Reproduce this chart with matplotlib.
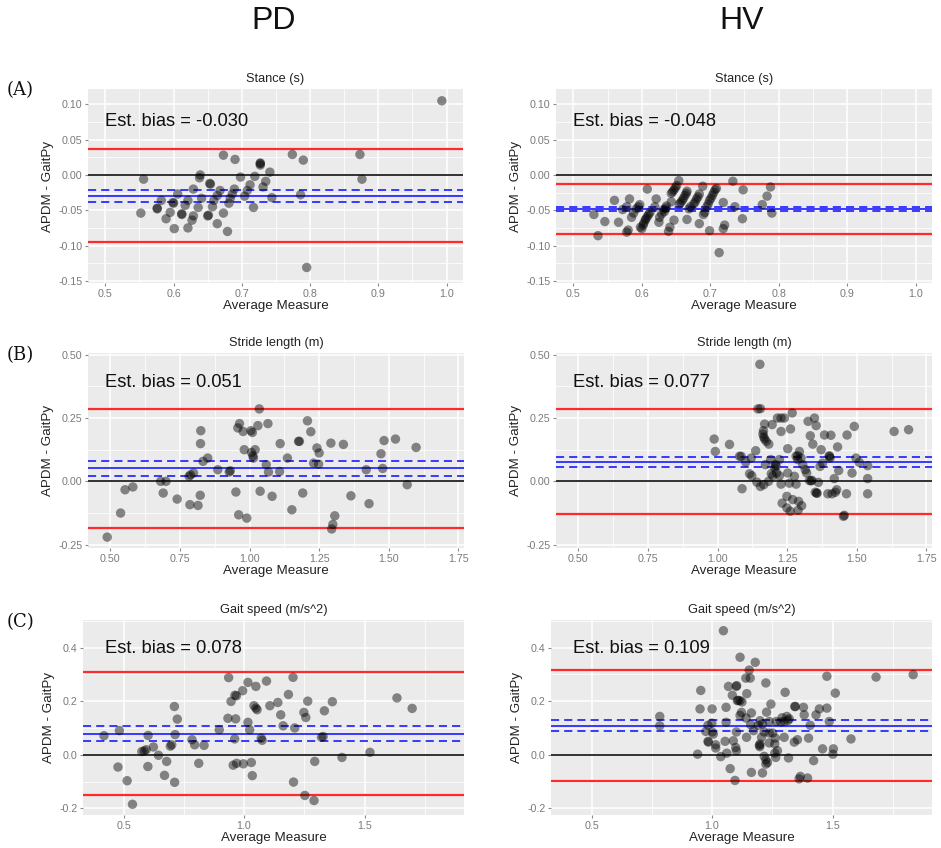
import numpy as np
import matplotlib
matplotlib.use("Agg")
from matplotlib import pyplot as plt
from matplotlib.ticker import MultipleLocator, FormatStrFormatter

plt.rcParams["font.family"] = ["Liberation Sans", "DejaVu Sans"]
plt.rcParams["axes.unicode_minus"] = False

# Bland-Altman points: (average measure, APDM - GaitPy)
pd_stance = [
    (0.556, -0.006), (0.552, -0.054), (0.576, -0.048), (0.576, -0.047), (0.582, -0.036),
    (0.589, -0.062), (0.595, -0.053), (0.599, -0.039), (0.600, -0.040), (0.601, -0.076),
    (0.606, -0.027), (0.612, -0.055), (0.612, -0.056), (0.617, -0.043), (0.621, -0.036),
    (0.627, -0.064), (0.629, -0.058), (0.621, -0.075), (0.629, -0.020), (0.638, -0.004),
    (0.639, 0.000), (0.636, -0.046), (0.641, -0.033), (0.653, -0.012), (0.654, -0.013),
    (0.650, -0.058), (0.651, -0.057), (0.657, -0.045), (0.659, -0.036), (0.664, -0.029),
    (0.668, -0.022), (0.664, -0.069), (0.673, -0.054), (0.679, -0.080), (0.681, -0.040),
    (0.683, -0.033), (0.686, -0.027), (0.689, -0.020), (0.698, -0.003), (0.704, -0.030),
    (0.708, -0.022), (0.712, -0.014), (0.717, -0.046), (0.719, -0.002), (0.727, 0.017),
    (0.727, 0.014), (0.727, 0.016), (0.731, -0.017), (0.735, -0.009), (0.741, 0.004),
    (0.744, -0.032), (0.673, 0.028), (0.690, 0.022), (0.774, 0.029), (0.790, 0.021),
    (0.786, -0.028), (0.873, 0.029), (0.876, -0.006), (0.993, 0.105), (0.795, -0.131),
]

hv_stance = [
    (0.530, -0.056), (0.536, -0.086), (0.546, -0.066), (0.560, -0.036), (0.566, -0.067),
    (0.572, -0.049), (0.578, -0.045), (0.582, -0.034), (0.578, -0.081), (0.580, -0.078),
    (0.585, -0.060), (0.588, -0.054), (0.592, -0.048), (0.597, -0.042), (0.600, -0.076),
    (0.602, -0.071), (0.605, -0.064), (0.608, -0.059), (0.612, -0.053), (0.608, -0.020),
    (0.621, -0.034), (0.619, -0.045), (0.625, -0.067), (0.629, -0.055), (0.632, -0.049),
    (0.636, -0.044), (0.639, -0.080), (0.641, -0.074), (0.643, -0.038), (0.647, -0.064),
    (0.643, -0.026), (0.647, -0.021), (0.651, -0.015), (0.654, -0.008), (0.655, -0.041),
    (0.659, -0.036), (0.663, -0.029), (0.666, -0.023), (0.666, -0.063), (0.671, -0.045),
    (0.676, -0.041), (0.680, -0.034), (0.684, -0.027), (0.684, -0.069), (0.689, -0.016),
    (0.692, -0.053), (0.695, -0.045), (0.699, -0.036), (0.703, -0.029), (0.707, -0.021),
    (0.699, -0.079), (0.713, -0.110), (0.719, -0.039), (0.721, -0.071), (0.719, -0.076),
    (0.733, -0.009), (0.736, -0.045), (0.748, -0.021), (0.747, -0.062), (0.776, -0.042),
    (0.783, -0.030), (0.788, -0.017), (0.790, -0.054), (0.595, -0.045), (0.598, -0.074),
    (0.603, -0.068), (0.606, -0.062), (0.610, -0.056), (0.633, -0.052), (0.635, -0.047),
    (0.645, -0.024), (0.649, -0.018), (0.657, -0.039), (0.661, -0.033), (0.665, -0.026),
    (0.669, -0.048), (0.678, -0.038), (0.682, -0.031), (0.697, -0.041), (0.701, -0.033),
    (0.705, -0.025), (0.709, -0.019), (0.690, -0.056), (0.626, -0.060),
]

pd_stride = [
    (0.489, -0.220), (0.537, -0.125), (0.553, -0.033), (0.581, -0.022), (0.681, 0.000),
    (0.700, 0.000), (0.690, -0.046), (0.740, -0.070), (0.783, 0.020), (0.788, 0.026),
    (0.799, 0.033), (0.786, -0.092), (0.815, -0.095), (0.823, -0.055), (0.825, 0.200),
    (0.824, 0.149), (0.833, 0.079), (0.850, 0.092), (0.886, 0.046), (0.927, 0.037),
    (0.931, 0.042), (0.951, -0.042), (0.958, 0.211), (0.964, 0.228), (0.961, -0.132),
    (0.977, 0.197), (0.981, 0.125), (0.990, -0.145), (1.005, 0.200), (1.010, 0.193),
    (1.007, 0.114), (1.012, 0.101), (1.014, 0.092), (1.020, 0.125), (1.030, 0.220),
    (1.035, 0.286), (1.038, -0.039), (1.060, 0.066), (1.066, 0.228), (1.068, 0.037),
    (1.081, -0.059), (1.108, 0.039), (1.110, 0.149), (1.136, 0.092), (1.152, -0.112),
    (1.179, 0.158), (1.176, 0.158), (1.191, -0.046), (1.208, 0.239), (1.220, 0.196),
    (1.230, 0.072), (1.242, 0.132), (1.250, 0.112), (1.248, 0.068), (1.292, 0.151),
    (1.295, -0.188), (1.299, -0.170), (1.306, -0.136), (1.337, 0.146), (1.364, -0.057),
    (1.419, 0.046), (1.429, -0.088), (1.472, 0.109), (1.478, 0.051), (1.483, 0.161),
    (1.524, 0.167), (1.566, -0.013), (1.598, 0.134),
]

hv_stride = [
    (1.152, 0.462), (1.145, 0.286), (1.154, 0.287), (0.988, 0.167), (0.992, 0.118),
    (1.043, 0.146), (1.085, 0.099), (1.088, -0.029), (1.101, 0.076), (1.115, 0.030),
    (1.123, 0.022), (1.121, 0.092), (1.137, 0.121), (1.141, -0.003), (1.154, -0.020),
    (1.169, 0.226), (1.165, 0.200), (1.163, 0.187), (1.166, 0.175), (1.169, 0.167),
    (1.175, 0.158), (1.172, 0.066), (1.166, -0.013), (1.183, 0.000), (1.184, 0.147),
    (1.196, 0.224), (1.191, 0.086), (1.193, 0.030), (1.199, 0.022), (1.205, 0.053),
    (1.208, 0.066), (1.212, 0.033), (1.215, 0.250), (1.228, 0.250), (1.240, 0.250),
    (1.228, 0.197), (1.222, 0.086), (1.222, 0.022), (1.228, -0.011), (1.232, -0.086),
    (1.249, -0.059), (1.270, -0.072), (1.249, -0.105), (1.291, -0.079), (1.302, -0.096),
    (1.289, -0.114), (1.261, -0.118), (1.252, 0.129), (1.262, 0.207), (1.268, 0.270),
    (1.252, 0.033), (1.258, -0.007), (1.282, 0.099), (1.288, 0.086), (1.276, 0.020),
    (1.282, -0.011), (1.288, 0.101), (1.294, 0.118), (1.300, 0.092), (1.306, 0.066),
    (1.315, 0.046), (1.320, 0.033), (1.325, 0.237), (1.333, 0.180), (1.342, 0.147),
    (1.348, 0.250), (1.354, 0.220), (1.330, 0.003), (1.339, 0.004), (1.351, -0.043),
    (1.356, -0.046), (1.362, -0.004), (1.368, 0.059), (1.372, 0.125), (1.377, 0.072),
    (1.384, 0.183), (1.396, -0.049), (1.401, 0.101), (1.404, 0.092), (1.407, 0.182),
    (1.411, -0.049), (1.423, -0.043), (1.419, 0.011), (1.428, -0.033), (1.431, 0.136),
    (1.435, 0.043), (1.463, -0.049), (1.465, 0.183), (1.483, 0.033), (1.491, 0.217),
    (1.497, 0.092), (1.509, 0.075), (1.539, 0.062), (1.539, 0.011), (1.539, -0.049),
    (1.455, -0.134), (1.452, -0.138), (1.634, 0.197), (1.686, 0.204), (1.079, 0.099),
    (1.402, 0.098), (1.336, 0.002), (1.357, -0.047), (1.210, 0.060),
]

pd_speed = [
    (0.419, 0.071), (0.477, -0.046), (0.483, 0.090), (0.515, -0.097), (0.537, -0.185),
    (0.576, 0.012), (0.586, 0.014), (0.594, 0.019), (0.602, 0.072), (0.601, -0.044),
    (0.624, 0.029), (0.645, -0.002), (0.670, -0.077), (0.679, -0.025), (0.694, 0.032),
    (0.700, 0.037), (0.711, 0.180), (0.714, 0.075), (0.712, -0.103), (0.723, 0.133),
    (0.784, 0.056), (0.795, 0.037), (0.812, -0.032), (0.834, 0.035), (0.897, 0.093),
    (0.933, 0.136), (0.936, 0.288), (0.946, 0.199), (0.955, -0.039), (0.961, 0.059),
    (0.962, 0.222), (0.968, 0.220), (0.965, 0.134), (0.969, -0.032), (0.994, 0.239),
    (0.997, -0.034), (1.016, 0.270), (1.016, 0.121), (1.023, 0.093), (1.030, -0.029),
    (1.034, -0.078), (1.041, 0.183), (1.049, 0.255), (1.049, 0.174), (1.054, 0.168),
    (1.071, 0.062), (1.075, 0.054), (1.093, 0.275), (1.107, 0.183), (1.140, 0.195),
    (1.152, 0.149), (1.162, 0.108), (1.184, 0.225), (1.203, 0.289), (1.205, -0.102),
    (1.210, 0.100), (1.248, 0.158), (1.252, -0.152), (1.256, 0.139), (1.264, 0.200),
    (1.290, -0.171), (1.293, -0.025), (1.321, 0.065), (1.328, 0.068), (1.333, 0.164),
    (1.366, 0.198), (1.406, -0.010), (1.522, 0.009), (1.634, 0.212), (1.697, 0.173),
]

hv_speed = [
    (1.047, 0.463), (1.116, 0.364), (1.179, 0.345), (1.154, 0.316), (1.140, 0.286),
    (1.158, 0.286), (1.223, 0.268), (1.068, 0.255), (1.100, 0.255), (1.102, 0.258),
    (1.084, 0.222), (1.105, 0.202), (1.116, 0.202), (1.124, 0.197), (1.144, 0.228),
    (0.953, 0.240), (1.303, 0.233), (1.511, 0.230), (1.476, 0.293), (1.680, 0.290),
    (1.834, 0.299), (0.950, 0.171), (1.000, 0.171), (1.058, 0.177), (1.122, 0.158),
    (1.163, 0.156), (1.244, 0.189), (1.226, 0.159), (1.345, 0.180), (1.343, 0.180),
    (1.379, 0.177), (1.382, 0.149), (1.445, 0.171), (1.476, 0.174), (1.431, 0.149),
    (1.486, 0.124), (1.310, 0.143), (1.320, 0.134), (1.299, 0.124), (1.285, 0.122),
    (1.266, 0.124), (1.237, 0.124), (1.199, 0.127), (1.209, 0.115), (1.191, 0.110),
    (1.160, 0.112), (1.141, 0.137), (1.116, 0.147), (1.058, 0.121), (0.999, 0.118),
    (0.983, 0.110), (0.974, 0.087), (1.001, 0.085), (1.005, 0.077), (1.101, 0.085),
    (1.172, 0.090), (1.216, 0.085), (1.237, 0.081), (1.251, 0.081), (1.143, 0.065),
    (1.205, 0.065), (1.262, 0.062), (1.299, 0.065), (1.341, 0.047), (1.354, 0.056),
    (1.400, 0.062), (1.407, 0.110), (1.576, 0.059), (0.983, 0.050), (1.015, 0.025),
    (1.054, 0.050), (1.015, 0.037), (1.088, 0.052), (1.098, 0.027), (1.101, 0.015),
    (1.199, 0.040), (1.196, 0.035), (1.198, 0.030), (1.237, 0.044), (1.260, 0.040),
    (1.271, 0.015), (1.260, 0.006), (1.317, -0.012), (1.458, 0.022), (1.503, 0.022),
    (1.501, 0.002), (1.036, -0.007), (1.061, 0.006), (1.075, -0.052), (1.095, -0.096),
    (1.163, -0.066), (1.209, -0.068), (1.216, -0.006), (1.223, -0.019), (1.230, -0.029),
    (1.223, -0.035), (1.264, -0.010), (1.366, -0.081), (1.396, -0.087), (1.361, -0.090),
    (1.421, -0.022), (0.783, 0.143), (0.783, 0.108), (0.940, 0.002), (0.985, 0.047),
    (1.290, 0.138), (1.315, 0.128), (1.108, 0.203),
]

# bias, 95% CI of the bias, limits of agreement
biases = [-0.030, -0.048, 0.051, 0.077, 0.078, 0.109]
bias_ci = [(-0.038, -0.022), (-0.051, -0.045), (0.022, 0.080),
           (0.058, 0.098), (0.050, 0.107), (0.090, 0.128)]
loas = [(-0.095, 0.037), (-0.084, -0.013), (-0.183, 0.286),
        (-0.130, 0.286), (-0.152, 0.309), (-0.099, 0.317)]

titles = ["Stance (s)", "Stride length (m)", "Gait speed (m/s^2)"]
columns = ["PD", "HV"]
row_tags = ["(A)", "(B)", "(C)"]

W, H = 941, 848
fig = plt.figure(figsize=(W / 100, H / 100), dpi=100)

# plot boxes in pixels: left, top, right, bottom
boxes = [
    (88, 89, 463, 283), (556, 89, 932, 283),
    (88, 353, 464, 548), (556, 353, 932, 548),
    (83, 620, 464, 815), (551, 620, 932, 815),
]
row_opts = [
    dict(xlim=(0.4746, 1.024), ylim=(-0.153, 0.1217), xmaj=0.1, ymaj=0.05,
         xfmt="%.1f", yfmt="%.2f", txt=(0.045, 0.83)),
    dict(xlim=(0.42, 1.77), ylim=(-0.263, 0.5067), xmaj=0.25, ymaj=0.25,
         xfmt="%.2f", yfmt="%.2f", txt=(0.045, 0.85)),
    dict(xlim=(0.332, 1.912), ylim=(-0.225, 0.503), xmaj=0.5, ymaj=0.2,
         xfmt="%.1f", yfmt="%.1f", txt=(0.058, 0.855)),
]
panel_data = [pd_stance, hv_stance, pd_stride, hv_stride, pd_speed, hv_speed]

for i, pts in enumerate(panel_data):
    row = i // 2
    opt = row_opts[row]
    l, t, r, b = boxes[i]
    ax = fig.add_axes([l / W, 1 - b / H, (r - l) / W, (b - t) / H])
    ax.set_facecolor("#EBEBEB")
    for s in ax.spines.values():
        s.set_visible(False)

    ax.xaxis.set_major_locator(MultipleLocator(opt["xmaj"]))
    ax.xaxis.set_minor_locator(MultipleLocator(opt["xmaj"] / 2))
    ax.yaxis.set_major_locator(MultipleLocator(opt["ymaj"]))
    ax.yaxis.set_minor_locator(MultipleLocator(opt["ymaj"] / 2))
    ax.xaxis.set_major_formatter(FormatStrFormatter(opt["xfmt"]))
    ax.yaxis.set_major_formatter(FormatStrFormatter(opt["yfmt"]))
    ax.grid(which="major", color="white", lw=1.1)
    ax.grid(which="minor", color="white", lw=0.55)
    ax.set_axisbelow(True)
    ax.tick_params(which="major", length=2.5, width=0.8, color="#8a8a8a",
                   labelsize=7.7, labelcolor="#7a7a7a", pad=1.5)
    ax.tick_params(which="minor", length=0)

    xy = np.array(pts)
    ax.scatter(xy[:, 0], xy[:, 1], s=46, color="black", alpha=0.45,
               edgecolors="none", zorder=3)

    lo, hi = loas[i]
    ax.axhline(0, color="#222222", lw=1.3, zorder=2)
    ax.axhline(lo, color="#ff2a2a", lw=1.6, zorder=2)
    ax.axhline(hi, color="#ff2a2a", lw=1.6, zorder=2)
    ax.axhline(biases[i], color="#2b2bff", lw=1.3, zorder=2)
    for c in bias_ci[i]:
        ax.axhline(c, color="#2b2bff", lw=1.3, ls=(0, (4.5, 2.8)), zorder=2)

    ax.set_xlim(*opt["xlim"])
    ax.set_ylim(*opt["ylim"])
    ax.set_title(titles[row], fontsize=9.2, color="#222222", pad=5)
    ax.set_xlabel("Average Measure", fontsize=9.6, color="#222222", labelpad=1)
    ax.set_ylabel("APDM - GaitPy", fontsize=9.6, color="#222222", labelpad=3)
    ax.text(*opt["txt"], "Est. bias = %.3f" % biases[i], transform=ax.transAxes,
            fontsize=13.2, color="#111111", ha="left", va="center")

# column headers and row tags
for j, name in enumerate(columns):
    fig.text((274 + 468 * j) / W, 1 - 21 / H, name, fontsize=23,
             ha="center", va="center", color="#111111")
for k, tag in enumerate(row_tags):
    fig.text(7 / W, 1 - [90, 355, 622][k] / H, tag, fontsize=13,
             family="DejaVu Serif", ha="left", va="center", color="#111111")

fig.savefig("out.png", dpi=100, facecolor="white")
